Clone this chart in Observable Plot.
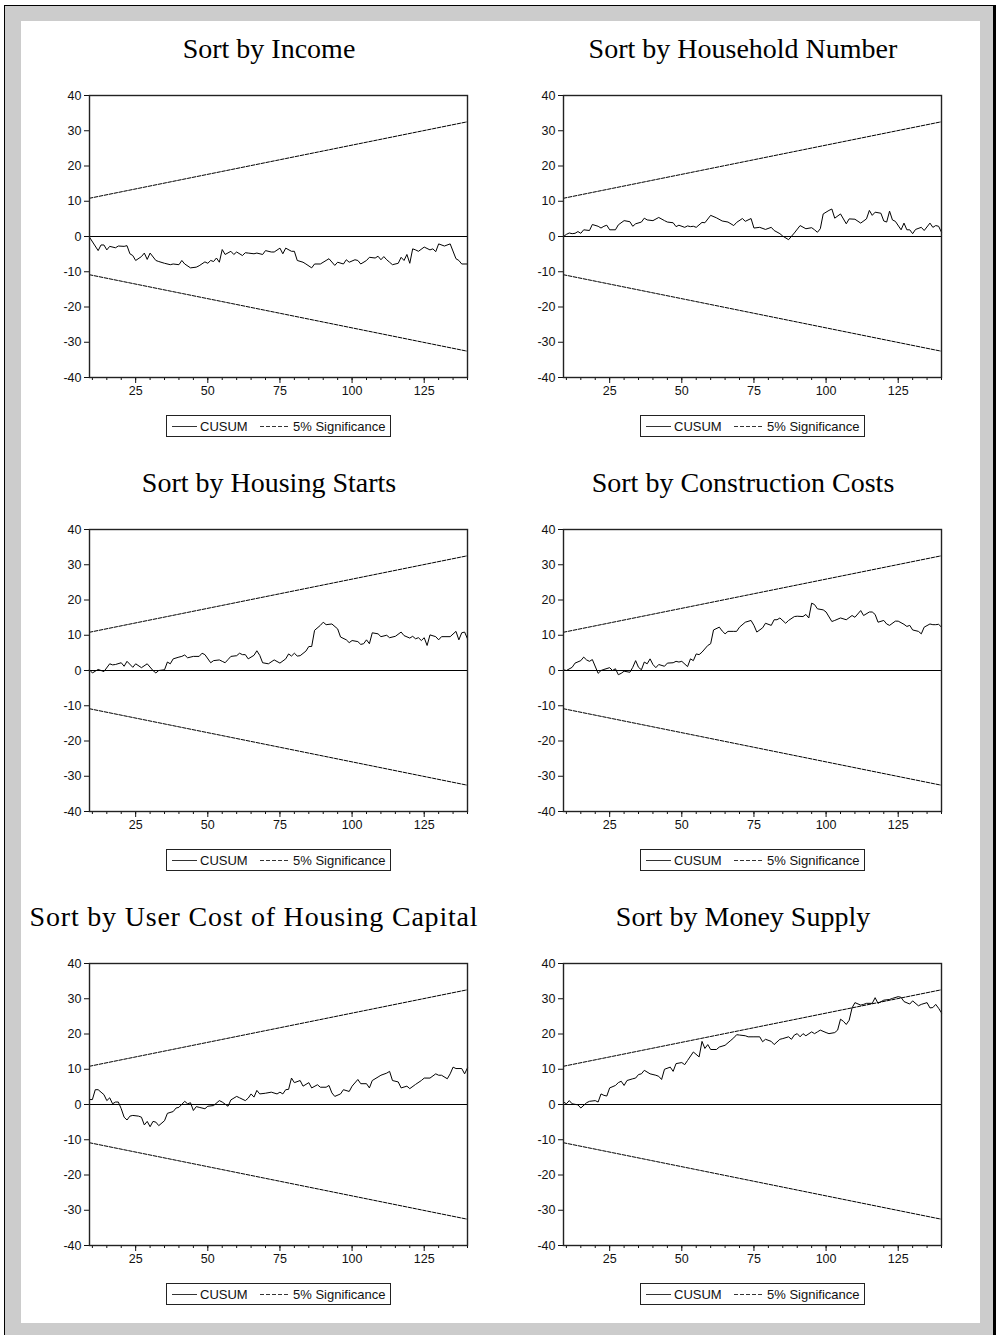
<!DOCTYPE html>
<html>
<head>
<meta charset="utf-8">
<script src="https://cdn.jsdelivr.net/npm/d3@7"></script>
<script src="https://cdn.jsdelivr.net/npm/@observablehq/plot@0.6"></script>
<style>
html, body { margin: 0; padding: 0; background: #fff; }
body { width: 996px; height: 1335px; position: relative; overflow: hidden; }
#outer { position: absolute; left: 4px; top: 5px; width: 992px; height: 1330px; box-sizing: border-box;
  background: #cccccc; border-left: 1px solid #000; border-top: 1px solid #000; border-right: 3px solid #000; }
#inner { position: absolute; left: 21px; top: 21px; width: 959px; height: 1302px; background: #fff; }
.title { position: absolute; width: 600px; text-align: center; white-space: nowrap;
  font-family: "Liberation Serif", "Times New Roman", serif; font-size: 28px; line-height: 1; color: #000; }
.plot { position: absolute; }
.legend { position: absolute; }
</style>
</head>
<body>
<div id="outer"></div>
<div id="inner"></div>
<script>
// ---- data ----
const xTicks = [25, 50, 75, 100, 125];
const xMinorTicks = [10, 15, 20, 25, 30, 35, 40, 45, 50, 55, 60, 65, 70, 75, 80, 85, 90, 95, 100, 105, 110, 115, 120, 125, 130, 135, 140];
const yTicks = [-40, -30, -20, -10, 0, 10, 20, 30, 40];
const xDomain = [9, 140];
const yDomain = [-40, 40];

// 5% significance bounds (endpoints)
const bandT = [9, 140];
const bandUpper = [10.85, 32.55];
const bandLower = [-10.85, -32.55];

const titles = [
  "Sort by Income",
  "Sort by Household Number",
  "Sort by Housing Starts",
  "Sort by Construction Costs",
  "Sort by User Cost of Housing Capital",
  "Sort by Money Supply"
];

const incomeCusum = [[9,-0.2],[12,-4.0],[13,-2.4],[14,-2.4],[15,-3.8],[16,-2.8],[18,-3.2],[19,-2.7],[21,-2.8],[22,-2.6],
[23,-4.9],[24,-5.4],[25,-6.8],[27,-5.7],[28,-4.7],[29,-6.5],[30,-4.7],[32,-6.8],[33,-7.1],[35,-7.6],
[37,-8.0],[38,-7.8],[40,-8.0],[41,-6.8],[42,-7.8],[44,-8.9],[46,-8.7],[47,-8.3],[49,-7.2],[50,-7.6],
[51,-6.8],[52,-7.1],[53,-6.1],[54,-7.3],[55,-3.7],[56,-5.1],[58,-4.2],[59,-5.1],[60,-4.4],[62,-5.4],
[63,-4.6],[64,-4.7],[66,-4.9],[67,-4.7],[69,-5.1],[70,-4.0],[72,-4.4],[73,-4.4],[75,-3.3],[76,-4.9],
[77,-3.3],[79,-4.2],[80,-4.2],[81,-6.8],[83,-7.3],[84,-7.8],[86,-8.9],[87,-7.8],[89,-7.8],[91,-6.8],
[92,-6.3],[94,-8.2],[95,-7.3],[97,-7.8],[98,-6.6],[99,-7.3],[101,-6.6],[102,-6.8],[103,-7.8],[105,-6.8],
[106,-5.9],[108,-6.1],[109,-5.6],[110,-6.6],[111,-5.7],[112,-6.6],[113,-7.3],[114,-8.0],[116,-7.6],[117,-5.9],
[118,-6.8],[119,-5.1],[120,-7.6],[121,-3.5],[122,-3.8],[123,-4.2],[125,-3.0],[127,-3.8],[128,-3.5],[129,-4.3],
[130,-2.1],[132,-2.7],[134,-2.1],[136,-6.3],[137,-6.8],[138,-7.8],[140,-7.8]];

const householdCusum = [[9,0],[10,0.6],[11,1.0],[12,0.8],[13,0.9],[14,1.4],[15,0.9],[16,1.9],[18,1.7],[19,3.4],
[21,2.9],[22,2.4],[23,2.9],[24,3.2],[25,1.9],[27,1.9],[28,3.3],[30,4.5],[32,4.2],[33,2.9],
[34,3.6],[36,4.1],[37,5.2],[38,4.7],[40,4.5],[42,5.4],[44,4.5],[45,4.1],[47,3.9],[48,2.8],
[49,3.2],[51,2.6],[52,3.0],[53,2.8],[54,2.9],[55,2.6],[57,4.0],[58,3.9],[60,6.0],[62,5.3],
[64,4.4],[66,4.1],[68,3.1],[69,4.0],[71,5.1],[72,4.3],[74,5.1],[75,2.4],[77,2.6],[79,2.0],
[81,2.6],[82,1.7],[84,0.8],[85,0.1],[87,-0.9],[89,1.0],[91,3.1],[93,2.2],[95,2.5],[96,1.9],
[97,1.2],[98,2.2],[99,6.4],[101,7.4],[102,7.8],[103,5.2],[105,6.4],[107,3.6],[108,5.0],[110,4.9],
[112,3.8],[114,5.0],[115,7.4],[116,6.0],[117,6.9],[119,6.6],[120,4.4],[121,4.1],[122,7.2],[123,4.7],
[124,4.3],[126,1.9],[127,3.8],[128,1.9],[129,1.9],[130,0.8],[131,2.0],[133,2.6],[134,1.7],[136,3.8],
[137,2.6],[138,3.1],[139,2.9],[140,1.2]];

const startsCusum = [[9,0.2],[10,-0.7],[11,-0.2],[12,0.3],[13,0],[14,-0.3],[16,1.9],[17,1.6],[18,1.7],[20,2.2],
[21,1.2],[22,2.6],[24,0.9],[25,1.9],[27,0.8],[29,1.9],[31,0],[32,-0.7],[33,0],[35,0.2],
[36,2.4],[37,1.9],[38,3.3],[40,3.8],[41,4.0],[42,4.4],[43,3.6],[45,4.0],[47,4.0],[48,4.9],
[49,4.5],[51,2.2],[52,2.8],[54,3.0],[55,2.6],[56,2.2],[57,3.1],[58,4.0],[60,4.2],[61,4.9],
[62,4.5],[63,4.5],[64,3.3],[66,4.3],[67,5.6],[68,4.3],[69,2.2],[71,1.9],[73,3.0],[75,2.1],
[77,3.3],[78,4.7],[79,4.1],[80,4.9],[81,4.1],[82,4.2],[84,5.5],[85,6.8],[86,6.8],[87,11.4],
[89,12.8],[90,13.7],[91,13.0],[93,13.2],[95,11.8],[96,9.5],[98,8.7],[99,7.9],[100,8.5],[102,8.2],
[103,7.4],[104,7.6],[105,8.7],[106,7.6],[107,10.7],[109,10.4],[110,9.6],[112,10.0],[113,9.3],[115,9.7],
[117,10.9],[118,9.9],[120,9.2],[121,9.7],[122,9.0],[123,9.3],[124,8.5],[125,9.3],[126,7.1],[127,10.1],
[129,9.6],[130,8.7],[131,9.6],[134,9.6],[136,11.1],[137,8.7],[138,10.7],[139,10.9],[140,9.0]];

const costsCusum = [[9,0.2],[10,0],[12,0.9],[13,2.1],[15,2.8],[16,3.8],[17,3.0],[18,2.6],[19,3.1],[21,-0.8],
[22,0],[23,0.3],[25,0.8],[26,0],[27,0.5],[28,-1.2],[29,-0.8],[30,-0.2],[32,-0.5],[33,0.9],
[34,2.8],[35,0.9],[36,0.2],[37,2.4],[38,1.9],[39,3.3],[40,1.7],[41,0.8],[42,1.7],[44,1.2],
[45,2.1],[47,2.2],[48,2.6],[49,2.4],[50,2.6],[52,1.1],[53,3.3],[54,2.8],[55,4.7],[56,4.5],
[57,5.2],[59,7.1],[60,7.6],[61,11.5],[63,12.3],[64,11.2],[65,10.4],[66,11.1],[68,11.1],[69,11.1],
[70,12.3],[72,13.7],[74,14.2],[75,12.8],[76,10.9],[78,12.1],[79,13.4],[81,12.8],[82,14.4],[83,14.4],
[84,14.9],[86,13.4],[87,14.2],[89,15.3],[90,15.4],[92,15.3],[93,15.9],[94,14.9],[95,19.1],[96,18.7],
[97,17.5],[99,17.2],[100,16.6],[102,13.9],[103,14.2],[105,14.9],[107,14.4],[109,15.6],[110,15.1],[112,17.0],
[113,15.6],[115,16.6],[116,16.6],[117,15.9],[118,13.7],[120,14.2],[121,13.2],[122,12.8],[124,14.0],[125,14.0],
[127,13.1],[128,12.5],[129,12.8],[130,11.5],[132,11.1],[133,10.4],[134,12.3],[136,13.2],[137,13.0],[138,13.0],
[139,13.1],[140,12.3]];

const userCostCusum = [[9,1.4],[10,1.4],[11,4.2],[12,4.2],[13,3.5],[14,2.8],[15,1.1],[16,1.9],[17,0.2],[18,0.7],
[19,0.7],[20,-1.2],[21,-3.6],[22,-4.4],[23,-3.3],[24,-3.1],[26,-3.3],[27,-3.6],[28,-5.8],[29,-4.8],
[30,-6.3],[31,-4.8],[32,-5.0],[33,-6.0],[35,-4.6],[36,-2.5],[38,-2.0],[39,-1.0],[40,-0.8],[42,0.9],
[43,0.2],[44,0.5],[45,-1.7],[46,-0.6],[47,-0.8],[49,-1.2],[50,-0.5],[52,-0.3],[54,1.1],[55,0.7],
[57,-0.5],[58,1.3],[60,2.3],[61,1.9],[63,1.1],[64,1.8],[65,3.0],[66,2.1],[67,4.0],[68,3.0],
[70,3.2],[72,3.5],[74,3.0],[75,3.5],[76,3.0],[77,4.2],[78,4.3],[79,7.5],[80,6.2],[82,6.8],
[83,5.2],[85,6.2],[86,4.7],[88,5.6],[89,4.9],[91,4.9],[92,5.4],[93,3.3],[94,2.3],[96,3.0],
[97,4.2],[99,3.7],[100,5.2],[102,7.1],[103,5.9],[105,5.9],[106,4.7],[107,6.8],[109,7.8],[110,8.3],
[112,8.9],[113,9.4],[114,6.8],[116,6.4],[117,4.7],[119,5.2],[120,4.5],[122,5.7],[124,6.8],[125,7.5],
[127,7.5],[129,8.7],[130,8.3],[131,8.3],[133,7.3],[134,8.7],[135,10.6],[136,10.2],[138,10.2],[139,8.7],
[140,10.4]];

const moneyCusum = [[9,0.7],[10,0.2],[11,1.1],[12,0.2],[14,-0.1],[15,-1.0],[17,0.5],[18,0.9],[20,1.1],[21,0.7],
[22,3.0],[23,2.6],[24,2.4],[25,4.7],[27,5.4],[28,6.2],[29,6.6],[30,5.4],[31,6.8],[33,7.3],
[34,7.5],[35,8.5],[36,8.7],[37,9.7],[39,8.7],[41,8.3],[42,8.0],[43,7.1],[44,10.0],[46,10.6],
[47,9.4],[48,11.6],[50,11.9],[51,11.3],[52,12.5],[54,14.9],[56,13.5],[57,17.9],[58,15.9],[59,17.0],
[60,15.6],[62,15.6],[63,16.3],[65,16.8],[67,18.2],[68,18.9],[69,19.8],[70,19.7],[72,19.5],[73,19.2],
[75,19.2],[77,19.2],[78,17.8],[79,18.5],[81,17.9],[82,17.0],[84,18.5],[85,18.7],[87,19.2],[88,18.5],
[89,19.7],[90,20.1],[91,19.2],[92,20.1],[93,19.5],[95,20.6],[96,20.1],[97,20.6],[98,21.1],[100,20.4],
[101,20.1],[103,20.4],[104,21.1],[105,24.2],[106,23.6],[107,22.7],[108,23.9],[109,27.4],[110,28.9],[112,28.2],
[113,28.4],[114,28.7],[116,28.7],[117,30.3],[118,28.7],[120,29.6],[122,29.8],[123,30.1],[125,30.6],[126,30.4],
[127,29.2],[129,28.5],[130,29.4],[132,28.0],[133,28.4],[135,28.9],[136,27.4],[137,27.5],[138,28.4],[139,27.3],
[140,26.0]];

const series = [incomeCusum, householdCusum, startsCusum, costsCusum, userCostCusum, moneyCusum];
const legendLabels = ["CUSUM", "5% Significance"];

// ---- layout ----
const colLeft = [89, 563];
const rowTop = [95, 529, 963];
const frameW = 378, frameH = 282;
const mL = 60, mR = 15, mT = 10, mB = 30;

const fmt = d => String(d);
const upper = bandT.map((t, i) => ({t, v: bandUpper[i]}));
const lower = bandT.map((t, i) => ({t, v: bandLower[i]}));

series.forEach((s, i) => {
  const col = i % 2, row = Math.floor(i / 2);
  const fx = colLeft[col], fy = rowTop[row];
  const data = s.map(([t, v]) => ({t, v}));

  // title
  const title = document.createElement("div");
  title.className = "title";
  title.textContent = titles[i];
  let cx = fx + frameW / 2 - 9;
  if (titles[i].length > 30) { title.style.letterSpacing = "0.8px"; cx = 254; }
  title.style.left = (cx - 300) + "px";
  title.style.top = (fy - 60) + "px";
  document.body.appendChild(title);

  const chart = Plot.plot({
    width: mL + frameW + mR,
    height: mT + frameH + mB,
    marginLeft: mL, marginRight: mR, marginTop: mT, marginBottom: mB,
    x: {domain: xDomain, label: null},
    y: {domain: yDomain, label: null},
    style: {fontFamily: '"Liberation Sans", Arial, sans-serif', fontSize: "12px", color: "#111", background: "transparent", overflow: "visible"},
    marks: [
      Plot.ruleY([0], {stroke: "#000", strokeWidth: 1}),
      Plot.line(upper, {x: "t", y: "v", stroke: "#000", strokeWidth: 1, strokeDasharray: "3.5,1.5"}),
      Plot.line(lower, {x: "t", y: "v", stroke: "#000", strokeWidth: 1, strokeDasharray: "3.5,1.5"}),
      Plot.line(data, {x: "t", y: "v", stroke: "#000", strokeWidth: 1}),
      Plot.axisX({ticks: xMinorTicks, tickSize: 3, tickFormat: () => "", label: null}),
      Plot.axisX({ticks: xTicks, tickSize: 6, tickPadding: 3, tickFormat: fmt, label: null, fontSize: 12.5}),
      Plot.axisY({ticks: yTicks, tickSize: 5, tickPadding: 3, tickFormat: fmt, label: null, fontSize: 12.5}),
      Plot.frame({stroke: "#222", strokeWidth: 1.4})
    ]
  });
  chart.classList.add("plot");
  chart.style.position = "absolute";
  chart.style.left = (fx - mL) + "px";
  chart.style.top = (fy - mT) + "px";
  document.body.appendChild(chart);

  // legend
  const lw = 225, lh = 22;
  const leg = d3.create("svg")
    .attr("class", "legend")
    .attr("width", lw).attr("height", lh)
    .style("position", "absolute")
    .style("left", (fx + frameW / 2 - lw / 2) + "px")
    .style("top", (fy + frameH + 38) + "px")
    .style("font-family", '"Liberation Sans", Arial, sans-serif')
    .style("font-size", "13px");
  leg.append("rect").attr("x", 0.5).attr("y", 0.5).attr("width", lw - 1).attr("height", lh - 1)
    .attr("fill", "#fff").attr("stroke", "#222");
  leg.append("line").attr("x1", 6).attr("x2", 31).attr("y1", 11.5).attr("y2", 11.5)
    .attr("stroke", "#333").attr("stroke-width", 1);
  leg.append("text").attr("x", 34).attr("y", 16).attr("fill", "#111").text(legendLabels[0]);
  leg.append("line").attr("x1", 94).attr("x2", 124).attr("y1", 11.5).attr("y2", 11.5)
    .attr("stroke", "#333").attr("stroke-width", 1).attr("stroke-dasharray", "4,2");
  leg.append("text").attr("x", 127).attr("y", 16).attr("fill", "#111").text(legendLabels[1]);
  document.body.appendChild(leg.node());
});
</script>
</body>
</html>
